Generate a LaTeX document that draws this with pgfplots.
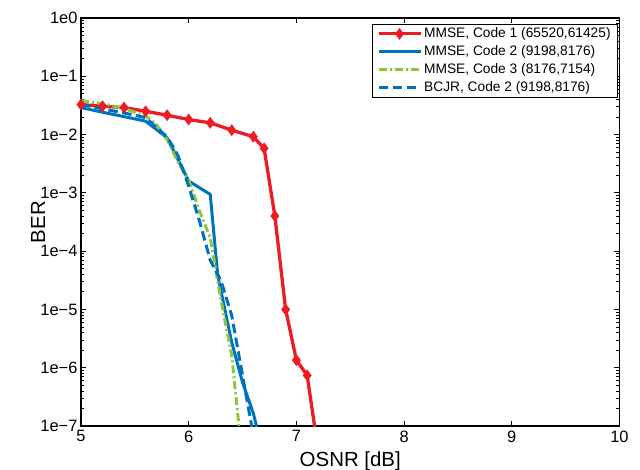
\documentclass[border=0pt]{standalone}
\usepackage{pgfplots}
\pgfplotsset{compat=1.18}
\usepackage{fontspec}
\setmainfont{Liberation Sans}
\definecolor{cred}{RGB}{237,28,36}
\definecolor{cblue}{RGB}{0,114,189}
\definecolor{cgreen}{RGB}{140,198,63}
\begin{document}
\begin{tikzpicture}
\begin{axis}[
  at={(0,0)}, anchor=south west,
  scale only axis, width=538.5bp, height=408bp,
  xmin=5, xmax=10, ymin=1e-7, ymax=1,
  ymode=log,
  xtick={5,6,7,8,9,10}, xticklabels={5,6,7,8,9,10},
  ytick={1e-7,1e-6,1e-5,1e-4,1e-3,1e-2,1e-1,1},
  yticklabels={1e−7,1e−6,1e−5,1e−4,1e−3,1e−2,1e−1,1e0},
  tick align=inside,
  major tick length=5bp, minor tick length=3bp,
  tick style={black, line width=0.8bp},
  axis line style={line width=1.3bp},
  ticklabel style={font=\fontsize{16.5}{19}\selectfont},
  xticklabel style={yshift=-1bp},
  xlabel={OSNR [dB]}, ylabel={BER},
  label style={font=\fontsize{20.5}{24}\selectfont},
  xlabel style={at={(axis description cs:0.5,-0.099)}, anchor=base},
  ylabel style={at={(axis description cs:-0.0799,0.5)}, anchor=center},
  legend style={at={(rel axis cs:0.9972,0.9853)}, anchor=north east,
    draw=black, line width=0.7bp, inner xsep=5bp, inner ysep=0.5bp,
    font=\fontsize{13.8}{16}\selectfont,
    nodes={inner sep=2bp, text height=10.5bp, text depth=3.5bp}},
  legend cell align=left,
  legend image code/.code={\draw[mark repeat=2,mark phase=2,#1] plot coordinates {(0bp,0bp) (21bp,0bp) (42bp,0bp)};},
]
\pgfplotsinvokeforeach{6,7,8,9}{
  \draw[black, line width=0.9bp] (axis cs:#1,1e-7) -- ++(0bp,5bp);
  \draw[black, line width=0.9bp] (axis cs:#1,1) -- ++(0bp,-5bp);
}
\pgfplotsinvokeforeach{1e-6,1e-5,1e-4,1e-3,1e-2,1e-1}{
  \draw[black, line width=0.9bp] (axis cs:5,#1) -- ++(5bp,0bp);
  \draw[black, line width=0.9bp] (axis cs:10,#1) -- ++(-5bp,0bp);
}
\pgfplotsinvokeforeach{2e-7,3e-7,4e-7,5e-7,6e-7,7e-7,8e-7,9e-7,
    2e-6,3e-6,4e-6,5e-6,6e-6,7e-6,8e-6,9e-6,
    2e-5,3e-5,4e-5,5e-5,6e-5,7e-5,8e-5,9e-5,
    2e-4,3e-4,4e-4,5e-4,6e-4,7e-4,8e-4,9e-4,
    2e-3,3e-3,4e-3,5e-3,6e-3,7e-3,8e-3,9e-3,
    2e-2,3e-2,4e-2,5e-2,6e-2,7e-2,8e-2,9e-2,
    2e-1,3e-1,4e-1,5e-1,6e-1,7e-1,8e-1,9e-1}{
  \draw[black, line width=0.8bp] (axis cs:5,#1) -- ++(3bp,0bp);
  \draw[black, line width=0.8bp] (axis cs:10,#1) -- ++(-3bp,0bp);
}
\addplot[cred, line width=3.3bp, mark=diamond*, mark size=5.5bp, mark options={solid, fill=cred, line width=0.5bp}] coordinates {
(5.0,3.27e-2) (5.2,3.06e-2) (5.4,2.91e-2) (5.6,2.51e-2) (5.8,2.15e-2) (6.0,1.81e-2) (6.2,1.59e-2) (6.4,1.19e-2) (6.6,9.2e-3) (6.7,5.8e-3) (6.8,4.0e-4) (6.9,1.0e-5) (7.0,1.35e-6) (7.1,7.4e-7) (7.2,4e-8)};
\addlegendentry{MMSE, Code 1 (65520,61425)}
\addplot[cblue, line width=3bp] coordinates {
(5.0,2.9e-2) (5.2,2.42e-2) (5.4,2.03e-2) (5.6,1.7e-2) (5.8,8.8e-3) (6.0,1.6e-3) (6.2,9.4e-4) (6.27,3.8e-5) (6.4,2.7e-6) (6.5,5.6e-7) (6.6,1.65e-7) (6.7,3e-8)};
\addlegendentry{MMSE, Code 2 (9198,8176)}
\addplot[cgreen, line width=3bp, dash pattern=on 8bp off 3bp on 2bp off 3bp] coordinates {
(5.0,3.8e-2) (5.2,3.4e-2) (5.4,2.8e-2) (5.6,2.1e-2) (5.7,1.48e-2) (5.8,8.2e-3) (5.9,3.4e-3) (6.0,1.66e-3) (6.1,4.9e-4) (6.2,1.7e-4) (6.3,1.44e-5) (6.4,1.6e-6) (6.5,2.5e-8)};
\addlegendentry{MMSE, Code 3 (8176,7154)}
\addplot[cblue, line width=3bp, dash pattern=on 9.5bp off 4.5bp] coordinates {
(5.0,3.3e-2) (5.2,2.75e-2) (5.4,2.35e-2) (5.6,1.95e-2) (5.8,9.1e-3) (5.9,4.4e-3) (6.0,1.3e-3) (6.1,3.3e-4) (6.2,7e-5) (6.3,3.1e-5) (6.4,7.8e-6) (6.5,7.4e-7) (6.6,7e-8)};
\addlegendentry{BCJR, Code 2 (9198,8176)}
\end{axis}
\pgfresetboundingbox
\path (-81bp,-44bp) rectangle (559bp,426bp);
\end{tikzpicture}
\end{document}
